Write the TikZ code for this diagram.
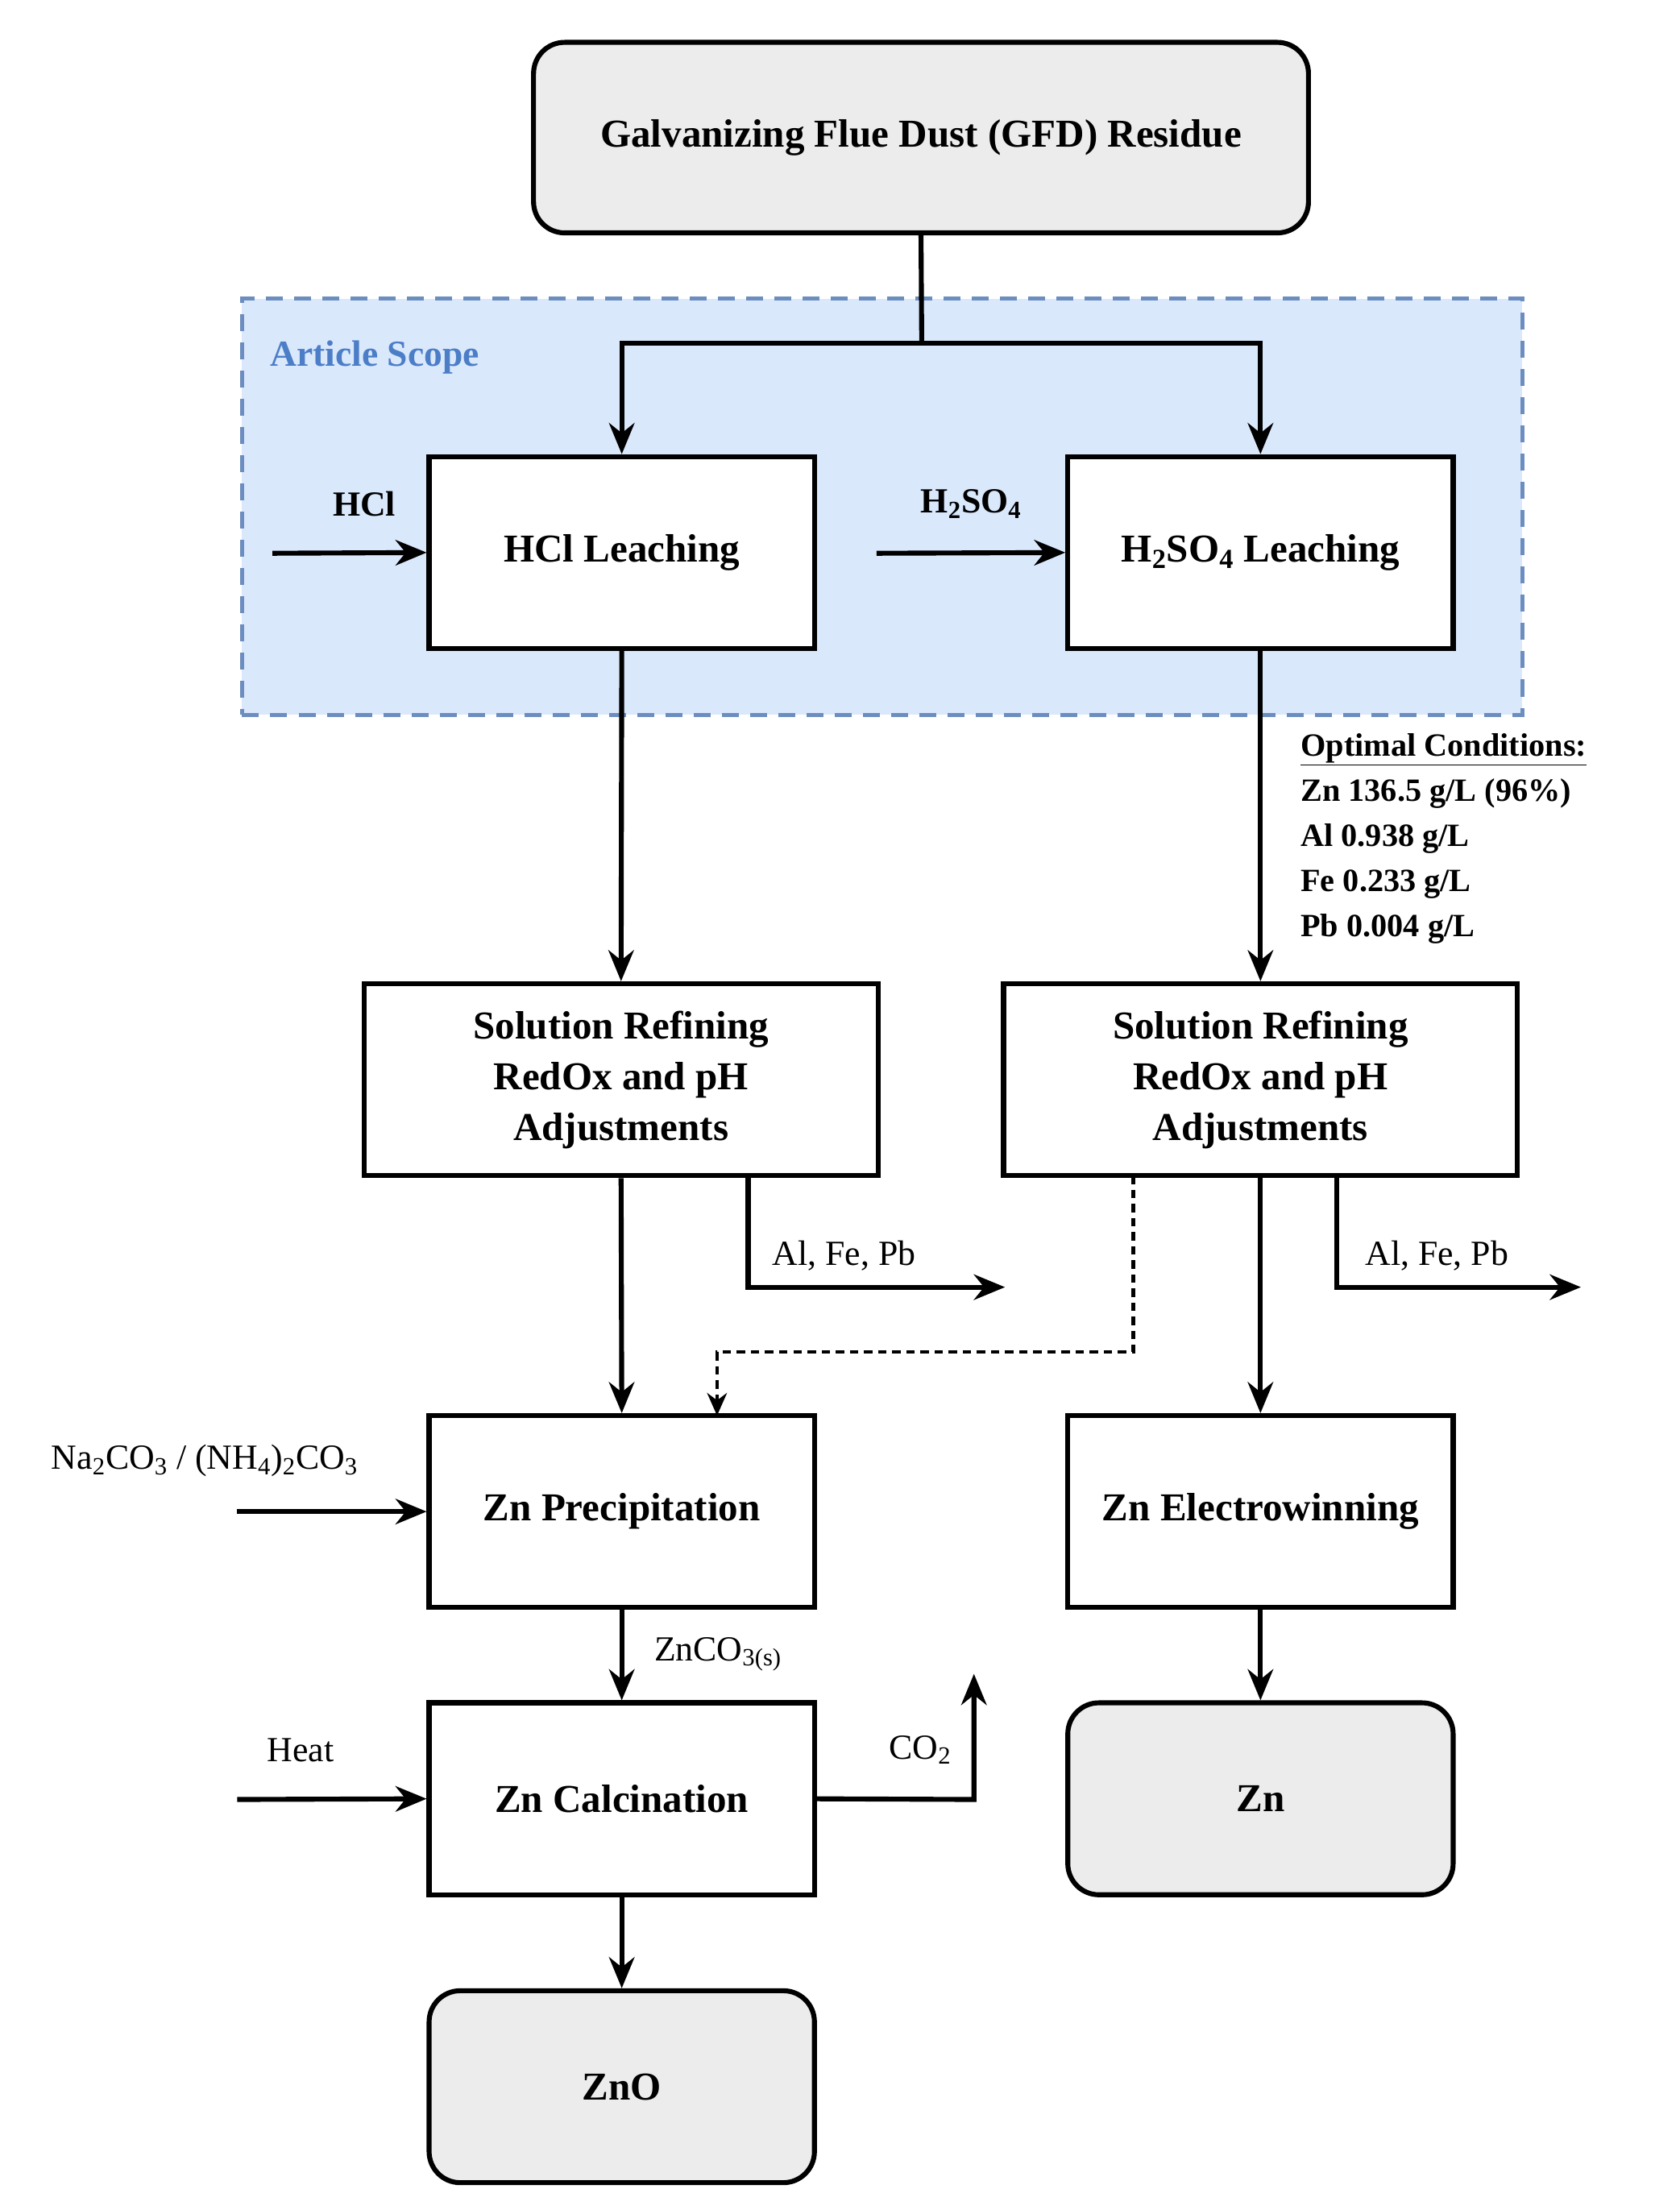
\documentclass[tikz,border=0pt]{standalone}
\usepackage{fontspec}
\setmainfont{Liberation Serif}
\usetikzlibrary{arrows.meta,calc}
\newcommand{\sbs}[1]{\textsubscript{#1}}
\begin{document}
\begin{tikzpicture}[x=1pt,y=-1pt,
  box/.style={draw,line width=3.5pt,minimum width=273pt,minimum height=136pt,align=center,font=\fontsize{28}{36}\selectfont\bfseries,inner sep=0pt},
  wbox/.style={box,minimum width=364pt},
  rbox/.style={box,rounded corners=22pt,fill=gray!15},
  arr/.style={line width=3.5pt,-{Stealth[length=22pt,width=18pt]}},
  ln/.style={line width=3.5pt},
  lab/.style={font=\fontsize{25}{30}\selectfont},
  blab/.style={font=\fontsize{25}{30}\selectfont\bfseries}]
\useasboundingbox (0,0) rectangle (1190,1551);
\fill[white] (0,0) rectangle (1190,1551);
\node[draw={rgb,255:red,108;green,142;blue,191},dash pattern=on 12pt off 8pt,line width=3pt,fill={rgb,255:red,218;green,232;blue,252},minimum width=907pt,minimum height=295pt,anchor=north west,inner sep=0pt] (scope) at (170,210) {};
\node[anchor=west,text={rgb,255:red,76;green,126;blue,200},font=\fontsize{26}{30}\selectfont\bfseries] (st) at (188,253) {Article Scope};
\node[rbox,minimum width=549pt,minimum height=135pt] (gfd) at (652.5,97.5) {Galvanizing Flue Dust (GFD) Residue};
\node[box,fill=white] (hcl) at (440.5,391.5) {HCl Leaching};
\node[box,fill=white] (h2) at (893,391.5) {H\sbs{2}SO\sbs{4} Leaching};
\node[wbox] (rl) at (440,765) {Solution Refining\\RedOx and pH\\Adjustments};
\node[wbox] (rr) at (893,765) {Solution Refining\\RedOx and pH\\Adjustments};
\node[box] (pr) at (440.5,1071) {Zn Precipitation};
\node[box] (ew) at (893,1071) {Zn Electrowinning};
\node[box] (ca) at (440.5,1274.5) {Zn Calcination};
\node[rbox] (zno) at (440.5,1478.5) {ZnO};
\node[rbox] (zn) at (893,1274.5) {Zn};
\coordinate (sp) at (653,243);
\draw[ln] (gfd.south) -- (sp);
\draw[arr] (sp) -| (hcl.north);
\draw[arr] (sp) -| (h2.north);
\coordinate (hin) at (193,392);
\draw[arr] (hin) -- (hcl.west);
\node[blab] (hl) at (258,357) {HCl};
\coordinate (sin) at (621,392);
\draw[arr] (sin) -- (h2.west);
\node[blab] (sl) at (688,357) {H\sbs{2}SO\sbs{4}};
\draw[arr] (hcl.south) -- (rl.north);
\draw[arr] (h2.south) -- (rr.north);
\node[anchor=north west,align=left,font=\fontsize{23}{32}\selectfont\bfseries] (oc) at (918,516) {\underline{Optimal Conditions:}\\Zn 136.5 g/L (96\%)\\Al 0.938 g/L\\Fe 0.233 g/L\\Pb 0.004 g/L};
\draw[arr] (rl.south) -- (pr.north);
\draw[arr] (rr.south) -- (ew.north);
\coordinate (a1) at (530,833); \coordinate (a2) at (530,912); \coordinate (a3) at (712,912);
\draw[arr] (a1) -- (a2) -- (a3);
\node[lab] (al1) at (598,890) {Al, Fe, Pb};
\coordinate (b1) at (947,833); \coordinate (b2) at (947,912); \coordinate (b3) at (1120,912);
\draw[arr] (b1) -- (b2) -- (b3);
\node[lab] (al2) at (1018,890) {Al, Fe, Pb};
\coordinate (d1) at (803,833); \coordinate (d2) at (803,958); \coordinate (d3) at (508,958); \coordinate (d4) at (508,1003);
\draw[line width=2.5pt,dash pattern=on 6pt off 4pt,-{Stealth[length=16pt,width=14pt]}] (d1) -- (d2) -- (d3) -- (d4);
\coordinate (nin) at (168,1071);
\draw[arr] (nin) -- (pr.west);
\node[lab] (nl) at (145,1035) {Na\sbs{2}CO\sbs{3} / (NH\sbs{4})\sbs{2}CO\sbs{3}};
\draw[arr] (pr.south) -- (ca.north);
\node[lab,anchor=west] (zc) at (460,1172) {ZnCO\sbs{3(s)}};
\coordinate (hin2) at (168,1275);
\draw[arr] (hin2) -- (ca.west);
\node[lab] (ht) at (213,1240) {Heat};
\coordinate (c1) at (690,1275); \coordinate (c2) at (690,1186);
\draw[arr] (ca.east) -- (c1) -- (c2);
\node[lab] (co) at (652,1240) {CO\sbs{2}};
\draw[arr] (ca.south) -- (zno.north);
\draw[arr] (ew.south) -- (zn.north);
\end{tikzpicture}
\end{document}
